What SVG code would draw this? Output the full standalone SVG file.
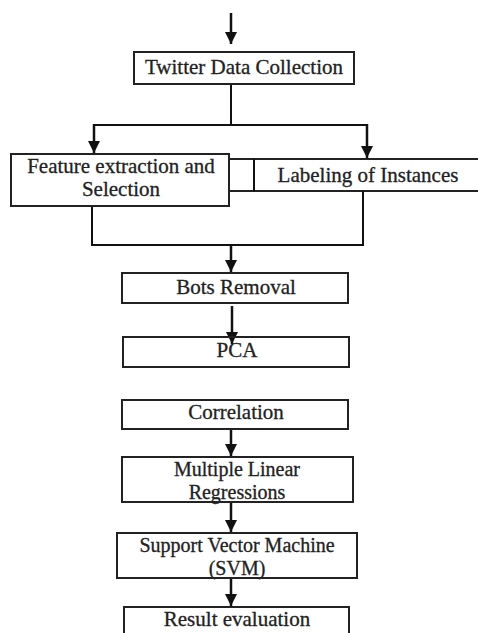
<svg xmlns="http://www.w3.org/2000/svg" width="478" height="633" viewBox="0 0 478 633">
<style>
.box{fill:#fff;stroke:#222;stroke-width:2}
.ln{fill:none;stroke:#111;stroke-width:2}
.ar{fill:none;stroke:#111;stroke-width:2.5;marker-end:url(#ah)}
text{font-family:"Liberation Serif","Times New Roman",serif;font-size:21px;fill:#222;stroke:#222;stroke-width:0.3;text-anchor:middle}
.two{font-size:20px}
</style>
<defs>
<marker id="ah" markerUnits="userSpaceOnUse" markerWidth="12" markerHeight="12" viewBox="0 0 12 12" refX="12" refY="6" orient="auto">
<path d="M0,0 L12,6 L0,12 Z" fill="#111"/>
</marker>
</defs>
<rect width="478" height="633" fill="#fff"/>
<g id="labeling">
<rect class="box" x="200" y="159" width="290" height="32"/>
<line class="ln" x1="254" y1="159" x2="254" y2="191"/>
<text x="368" y="182">Labeling of Instances</text>
</g>
<g id="connectors">
<line class="ar" x1="231" y1="13" x2="231" y2="44"/>
<polyline class="ln" points="231,84 231,125"/>
<polyline class="ln" points="93,125 368,125"/>
<line class="ar" x1="94" y1="124" x2="94" y2="153"/>
<line class="ar" x1="367" y1="124" x2="367" y2="158"/>
<polyline class="ln" points="92,206 92,245 363,245 363,191"/>
<line class="ar" x1="231" y1="245" x2="231" y2="272"/>
<line class="ar" x1="232" y1="306" x2="232" y2="344"/>
<line class="ar" x1="231" y1="429" x2="231" y2="456"/>
<line class="ar" x1="231" y1="502" x2="231" y2="532"/>
<line class="ar" x1="231" y1="578" x2="231" y2="606"/>
</g>
<g id="twitter">
<rect class="box" x="134" y="52" width="220" height="32"/>
<text x="244" y="74">Twitter Data Collection</text>
</g>
<g id="feature">
<rect class="box" x="11" y="154" width="218" height="52"/>
<text x="121" y="173">Feature extraction and</text>
<text x="121" y="196">Selection</text>
</g>
<g id="bots">
<rect class="box" x="122" y="273" width="226" height="30"/>
<text x="236" y="294">Bots Removal</text>
</g>
<g id="pca">
<rect class="box" x="123" y="337" width="226" height="30" style="fill:none"/>
<text x="237" y="357">PCA</text>
</g>
<g id="correlation">
<rect class="box" x="122" y="400" width="226" height="29"/>
<text x="236" y="419">Correlation</text>
</g>
<g id="mlr">
<rect class="box" x="122" y="457" width="231" height="45"/>
<text class="two" x="237" y="476">Multiple Linear</text>
<text class="two" x="237" y="499">Regressions</text>
</g>
<g id="svm">
<rect class="box" x="117" y="533" width="240" height="45"/>
<text class="two" x="237" y="552">Support Vector Machine</text>
<text class="two" x="237" y="575">(SVM)</text>
</g>
<g id="result">
<rect class="box" x="124" y="607" width="225" height="40"/>
<text x="237" y="626">Result evaluation</text>
</g>
</svg>
